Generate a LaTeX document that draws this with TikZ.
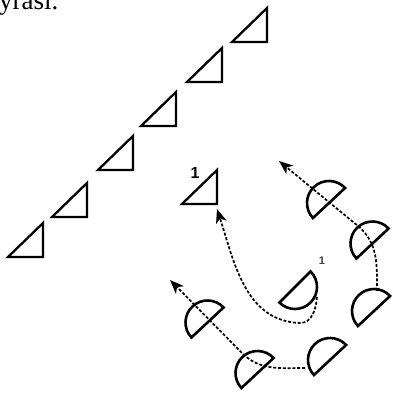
\documentclass[tikz,border=0pt]{standalone}
\usepackage{fontspec}
\setmainfont{Liberation Serif}
\newfontfamily\labfont{Liberation Sans}
\usetikzlibrary{arrows.meta}
\tikzset{
  tri/.style={draw=black, line width=2.3pt, line join=miter},
  hd/.style={draw=black, line width=2.6pt},
  dashline/.style={draw=black, line width=1.7pt, dash pattern=on 3pt off 1.8pt},
  arr/.style={dashline, -{Stealth[length=14pt,width=11pt,inset=4pt]}},
  halfdisk/.pic={\draw[hd] (-22,0) -- (22,0) arc[start angle=0,end angle=180,radius=22] -- cycle;},
  lab/.style={font=\labfont\bfseries\fontsize{16}{16}\selectfont, inner sep=0pt}
}
\begin{document}
\begin{tikzpicture}[x=1pt,y=1pt]
\useasboundingbox (0,0) rectangle (392,393);
% clipped caption text at the top
\node[anchor=base west, inner sep=0pt, font=\fontsize{27}{27}\selectfont] (cap) at (-1,383.5) {yrası.};
% row of triangles (named by right-angle corner)
\coordinate (t1) at (267,351);
\coordinate (t2) at (222,311);
\coordinate (t3) at (176,267);
\coordinate (t4) at (133,223);
\coordinate (t5) at (87,176);
\coordinate (t6) at (43,136);
\coordinate (tx) at (217,189);
\foreach \t in {t1,t2,t3,t4,t5,t6,tx}{
  \draw[tri] (\t) -- ++(-35,0) -- ++(35,34) -- cycle;
}
\node[lab] (l1) at (195,220) {1};
% half disks
\pic[rotate=43] (hA) at (329,190) {halfdisk};
\pic[rotate=43] (hB) at (372.5,149.5) {halfdisk};
\pic[rotate=43] (hC) at (374,82) {halfdisk};
\pic[rotate=225] (hD) at (295,106) {halfdisk};
\pic[rotate=43] (hE) at (330,33) {halfdisk};
\pic[rotate=43] (hF) at (257.5,20) {halfdisk};
\pic[rotate=43] (hG) at (207.5,70.5) {halfdisk};
\node[lab, font=\labfont\bfseries\fontsize{11}{11}\selectfont, text=black!75] (l2) at (322,132) {1};
% connector coordinates
\coordinate (cTop) at (377,102);
\coordinate (bUL) at (358,167);
\coordinate (tip1) at (279,232);
\coordinate (eL) at (305,25);
\coordinate (fM) at (242,40);
\coordinate (tip2) at (170,113);
\coordinate (dS) at (317,96);
\coordinate (dB) at (300,70);
\coordinate (tip3) at (217,184);
% dashed arrows
\draw[arr] (cTop) to[out=90,in=-40] (bUL) -- (tip1);
\draw[arr] (eL) to[out=180,in=-45] (fM) -- (tip2);
\draw[arr] (dS) to[out=-95,in=0] (dB) to[out=178,in=-72] (tip3);
\end{tikzpicture}
\end{document}
